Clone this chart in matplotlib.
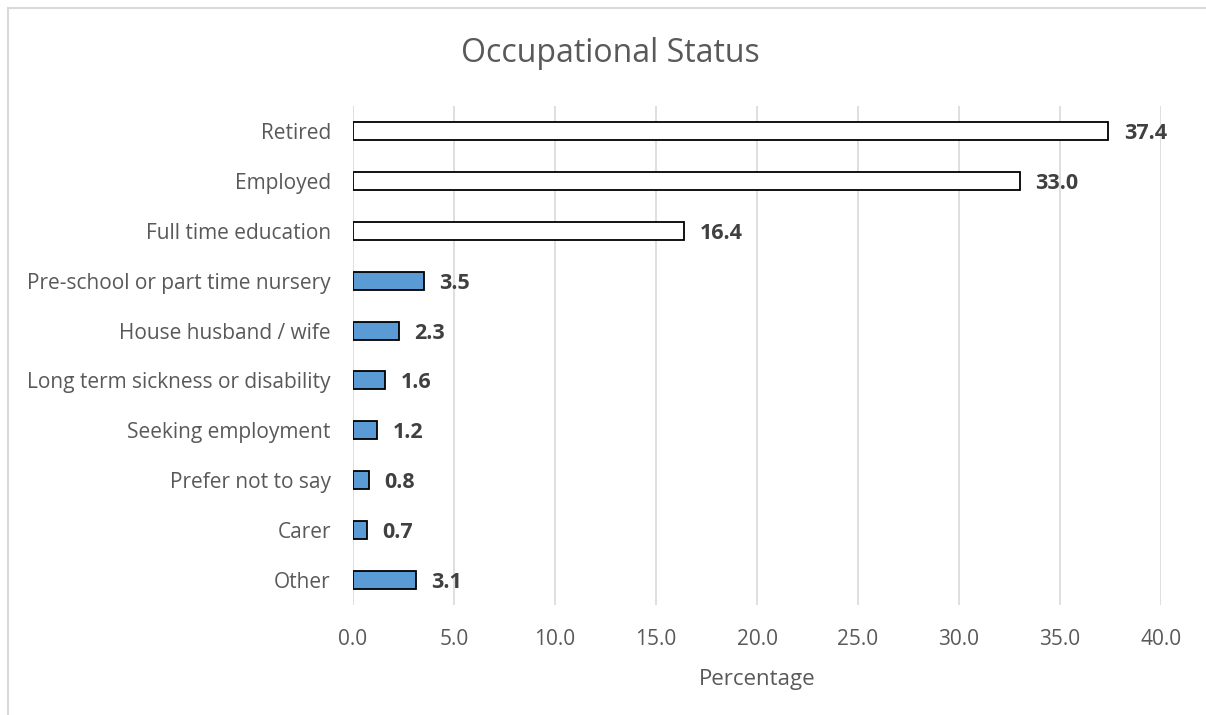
import matplotlib.pyplot as plt
from matplotlib.lines import Line2D

categories = ['Retired', 'Employed', 'Full time education',
              'Pre-school or part time nursery', 'House husband / wife',
              'Long term sickness or disability', 'Seeking employment',
              'Prefer not to say', 'Carer', 'Other']
values = [37.4, 33.0, 16.4, 3.5, 2.3, 1.6, 1.2, 0.8, 0.7, 3.1]
xticks = [0, 5, 10, 15, 20, 25, 30, 35, 40]

plt.rcParams['font.family'] = ['Open Sans', 'DejaVu Sans']

fig = plt.figure(figsize=(12.06, 7.15), dpi=100)
ax = fig.add_axes([0.2927, 0.1538, 0.670, 0.698])

# top three bars are hollow, the rest filled blue
colors = ['white'] * 3 + ['#5B9BD5'] * 7
ypos = list(range(len(categories)))
ax.barh(ypos, values, height=0.36, color=colors, edgecolor='black',
        linewidth=1.3, zorder=3)

for y, v in zip(ypos, values):
    ax.text(v + 0.75, y + 0.05, f'{v:.1f}', va='center', ha='left', fontsize=15.5,
            fontweight='bold', color='#404040')

ax.set_yticks(ypos)
ax.set_yticklabels(categories, fontsize=15, color='#595959')
ax.set_ylim(len(categories) - 0.5, -0.5)
ax.set_xlim(0, 40)
ax.set_xticks(xticks)
ax.set_xticklabels([f'{t:.1f}' for t in xticks], fontsize=15, color='#595959')
ax.tick_params(axis='y', length=0, pad=16)
ax.tick_params(axis='x', length=0, pad=17)
ax.grid(axis='x', color='#d9d9d9', linewidth=1.2, zorder=0)
ax.set_axisbelow(True)
for s in ax.spines.values():
    s.set_visible(False)

ax.set_xlabel('Percentage', fontsize=16, color='#595959', labelpad=14)
fig.text(0.506, 0.925, 'Occupational Status', ha='center', va='center',
         fontsize=23, color='#595959')

# light frame around the chart area
fig.add_artist(Line2D([8 / 1206, 8 / 1206], [0, 1 - 8 / 715],
                      transform=fig.transFigure, color='#d9d9d9', lw=1.5))
fig.add_artist(Line2D([8 / 1206, 1], [1 - 8 / 715, 1 - 8 / 715],
                      transform=fig.transFigure, color='#d9d9d9', lw=1.5))

fig.savefig('out.png', dpi=100)
